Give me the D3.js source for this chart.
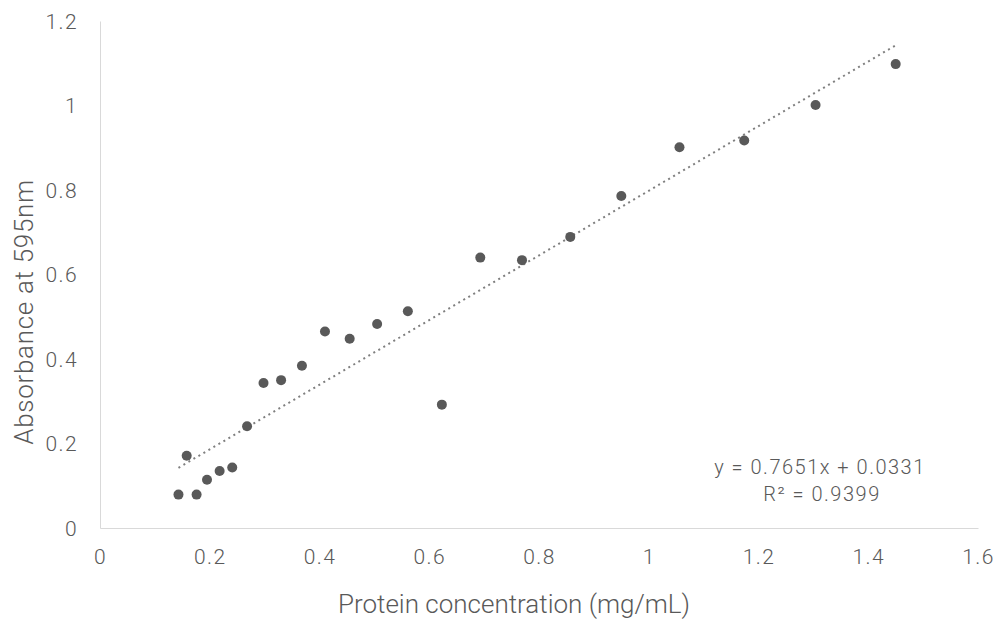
<!DOCTYPE html>
<html>
<head>
<meta charset="utf-8">
<script src="https://cdn.jsdelivr.net/npm/d3@7"></script>
<style>
    body { margin: 0; background: #fff; }
    svg { display: block; }
    text { font-family: Roboto, "Open Sans", sans-serif; font-weight: 300; fill: #595959; }
</style>
</head>
<body>
<svg id="chart" width="999" height="624"></svg>
<script>
// readings
let concentration = [0.143, 0.158, 0.176, 0.195, 0.218, 0.241, 0.268, 0.298, 0.330, 0.368, 0.410,
    0.455, 0.505, 0.561, 0.623, 0.693, 0.769, 0.857, 0.950, 1.056, 1.174, 1.304, 1.450];
let absorbance = [0.079, 0.171, 0.079, 0.114, 0.135, 0.143, 0.241, 0.343, 0.350, 0.384, 0.465,
    0.448, 0.483, 0.513, 0.292, 0.640, 0.634, 0.689, 0.786, 0.901, 0.917, 1.001, 1.098];
let xTicks = [0, 0.2, 0.4, 0.6, 0.8, 1, 1.2, 1.4, 1.6];
let yTicks = [0, 0.2, 0.4, 0.6, 0.8, 1, 1.2];
let slope = 0.7651;
let intercept = 0.0331;
let rSquared = 0.9399;

function draw() {
    let svg = d3.select("#chart");
    let margin = {top: 21, right: 21, bottom: 96, left: 100};
    let width = +svg.attr("width") - margin.left - margin.right;
    let height = +svg.attr("height") - margin.top - margin.bottom;
    let g = svg.append("g").attr("transform", `translate(${margin.left},${margin.top})`);

    let x = d3.scaleLinear().domain([0, 1.6]).range([0, width]);
    let y = d3.scaleLinear().domain([0, 1.2]).range([height, 0]);

    let fmt = (d) => d === 0 ? "0" : d3.format("~g")(d);

    // x axis
    let xAxis = g.append("g")
        .attr("transform", `translate(0,${height})`)
        .call(d3.axisBottom(x).tickValues(xTicks).tickSize(0).tickPadding(21).tickFormat(fmt));
    xAxis.select(".domain").attr("stroke", "#d9d9d9");
    xAxis.selectAll("text")
        .attr("font-size", 21).attr("font-family", null).attr("fill", null)
        .attr("letter-spacing", 1.4);

    // y axis
    let yAxis = g.append("g")
        .call(d3.axisLeft(y).tickValues(yTicks).tickSize(0).tickPadding(22).tickFormat(fmt));
    yAxis.select(".domain").attr("stroke", "#d9d9d9");
    yAxis.selectAll("text")
        .attr("font-size", 21).attr("font-family", null).attr("fill", null)
        .attr("letter-spacing", 1.4);
    yAxis.selectAll(".tick text").attr("dy", "0.35em");

    // linear trendline, across the range of the data
    let ext = d3.extent(concentration);
    let trend = ext.map((c) => [c, slope * c + intercept]);
    g.append("path")
        .datum(trend)
        .attr("fill", "none")
        .attr("stroke", "#7f7f7f")
        .attr("stroke-width", 2)
        .attr("stroke-dasharray", "2,3.8")
        .attr("d", d3.line().x((d) => x(d[0])).y((d) => y(d[1])));

    // points
    g.selectAll("circle.pt")
        .data(concentration.map((c, i) => [c, absorbance[i]]))
        .enter().append("circle")
        .attr("class", "pt")
        .attr("cx", (d) => x(d[0]))
        .attr("cy", (d) => y(d[1]))
        .attr("r", 5)
        .attr("fill", "#595959");

    // equation label
    svg.append("text")
        .attr("x", 820).attr("y", 474)
        .attr("text-anchor", "middle")
        .attr("font-size", 20)
        .attr("letter-spacing", 1.5)
        .text(`y = ${slope}x + ${intercept}`);
    svg.append("text")
        .attr("x", 822).attr("y", 501)
        .attr("text-anchor", "middle")
        .attr("font-size", 20)
        .attr("letter-spacing", 1.5)
        .text(`R² = ${rSquared}`);

    // axis titles
    svg.append("text")
        .attr("x", 514).attr("y", 613)
        .attr("text-anchor", "middle")
        .attr("font-size", 26)
        .text("Protein concentration (mg/mL)");
    svg.append("text")
        .attr("transform", "translate(33,312) rotate(-90)")
        .attr("text-anchor", "middle")
        .attr("font-size", 26)
        .attr("letter-spacing", 0.7)
        .text("Absorbance at 595nm");
}

draw();
</script>
</body>
</html>
